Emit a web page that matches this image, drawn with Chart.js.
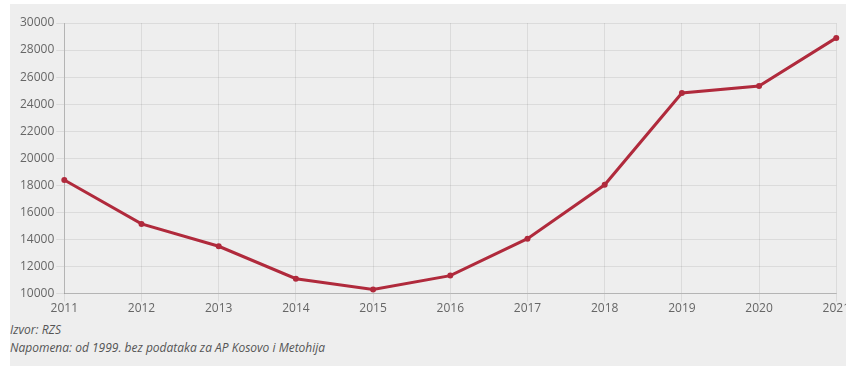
<!DOCTYPE html>
<html>
<head>
<meta charset="utf-8">
<script src="https://cdn.jsdelivr.net/npm/chart.js@4"></script>
<style>
  html, body { margin: 0; padding: 0; background: #fff; overflow: hidden; width: 846px; height: 366px; }
  .panel { position: absolute; left: 10px; top: 4px; width: 836px; height: 362px; background: #eeeeee; overflow: hidden; }
  .wrap { position: absolute; left: 0; top: 0; width: 840px; height: 312px; }
  .note { position: absolute; left: 0; font: italic 12px "Open Sans", sans-serif; color: #555; white-space: nowrap; }
</style>
</head>
<body>
<div class="panel">
  <div class="wrap"><canvas id="c"></canvas></div>
  <div class="note" style="top:317px">Izvor: RZS</div>
  <div class="note" style="top:335px">Napomena: od 1999. bez podataka za AP Kosovo i Metohija</div>
</div>
<script>
const years = ['2011', '2012', '2013', '2014', '2015', '2016', '2017', '2018', '2019', '2020', '2021'];
const values = [18400, 15150, 13500, 11100, 10300, 11330, 14060, 18040, 24830, 25350, 28900];
const yMin = 10000, yMax = 30000, yStep = 2000;

const lineColor = '#b02a3c';
const textColor = '#666';

new Chart(document.getElementById('c'), {
  type: 'line',
  data: {
    labels: years,
    datasets: [{
      data: values,
      borderColor: lineColor,
      backgroundColor: lineColor,
      borderWidth: 3,
      pointRadius: 3,
      pointBorderWidth: 0,
      tension: 0,
      fill: false
    }]
  },
  options: {
    responsive: true,
    maintainAspectRatio: false,
    animation: false,
    layout: { padding: { left: 8, top: 19, right: 0, bottom: 0 } },
    plugins: { legend: { display: false }, tooltip: { enabled: false } },
    scales: {
      x: {
        grid: { color: 'rgba(0,0,0,0.08)', tickLength: 8 },
        border: { color: 'rgba(0,0,0,0.18)' },
        ticks: { color: textColor, font: { family: 'Open Sans', size: 12 }, maxRotation: 0, padding: 0 }
      },
      y: {
        min: yMin, max: yMax,
        grid: { color: 'rgba(0,0,0,0.08)', tickLength: 8 },
        border: { color: 'rgba(0,0,0,0.18)' },
        ticks: { stepSize: yStep, color: textColor, font: { family: 'Open Sans', size: 12 }, padding: 2, callback: v => String(v) }
      }
    }
  }
});
</script>
</body>
</html>
